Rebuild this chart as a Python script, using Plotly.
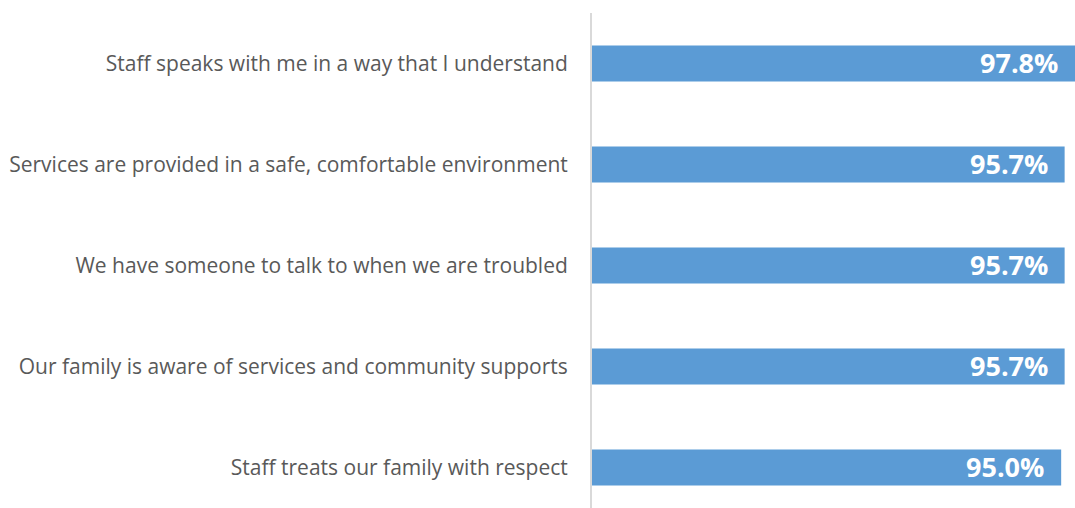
import plotly.graph_objects as go

# Survey statements and share of positive responses (%)
statements = [
    "Staff speaks with me in a way that I understand",
    "Services are provided in a safe, comfortable environment",
    "We have someone to talk to when we are troubled",
    "Our family is aware of services and community supports",
    "Staff treats our family with respect",
]
percentages = [97.8, 95.7, 95.7, 95.7, 95.0]
value_labels = ["97.8%", "95.7%", "95.7%", "95.7%", "95.0%"]

BAR_COLOR = "#5b9bd5"
LABEL_GRAY = "#595959"

fig = go.Figure(
    go.Bar(
        x=percentages,
        y=statements,
        orientation="h",
        marker=dict(color=BAR_COLOR, line=dict(width=0)),
        hoverinfo="skip",
    )
)

# Value labels placed just inside the end of each bar
for s, v, t in zip(statements, percentages, value_labels):
    fig.add_annotation(
        x=v, y=s, text=f"<b>{t}</b>", showarrow=False,
        xanchor="right", xshift=-15, yshift=1,
        font=dict(family="Open Sans", size=27, color="white"),
    )

fig.update_layout(
    width=1075, height=508,
    margin=dict(l=592, r=0, t=13, b=0),
    plot_bgcolor="white", paper_bgcolor="white",
    bargap=0.644,
    showlegend=False,
)
fig.update_xaxes(
    range=[0, 97.8], showgrid=False, zeroline=False,
    showticklabels=False, showline=False,
)
fig.update_yaxes(
    categoryorder="array", categoryarray=statements,
    range=[4.4, -0.5],
    showgrid=False, zeroline=False,
    showline=True, linecolor="#d9d9d9", linewidth=2,
    ticks="", ticklabelstandoff=18,
    tickfont=dict(family="Open Sans", size=21, color=LABEL_GRAY),
)

fig.write_html("out.html")
